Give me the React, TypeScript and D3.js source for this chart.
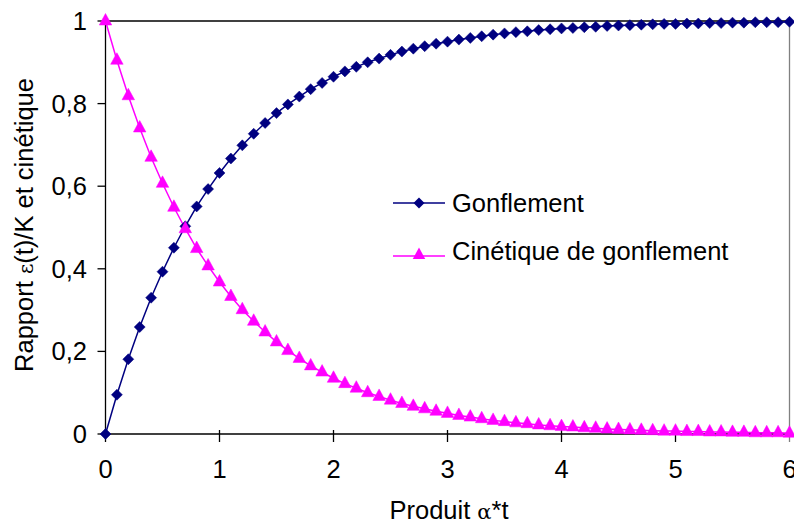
import React from "react";
import * as d3 from "d3";

const X = [0, 0.1, 0.2, 0.3, 0.4, 0.5, 0.6, 0.7, 0.8, 0.9, 1.0, 1.1, 1.2, 1.3, 1.4, 1.5, 1.6, 1.7, 1.8, 1.9, 2.0, 2.1, 2.2, 2.3, 2.4, 2.5, 2.6, 2.7, 2.8, 2.9, 3.0, 3.1, 3.2, 3.3, 3.4, 3.5, 3.6, 3.7, 3.8, 3.9, 4.0, 4.1, 4.2, 4.3, 4.4, 4.5, 4.6, 4.7, 4.8, 4.9, 5.0, 5.1, 5.2, 5.3, 5.4, 5.5, 5.6, 5.7, 5.8, 5.9, 6.0];

const gonflement = [0, 0.095, 0.181, 0.259, 0.33, 0.393, 0.451, 0.503, 0.551, 0.593, 0.632, 0.667, 0.699, 0.727, 0.753, 0.777, 0.798, 0.817, 0.835, 0.85, 0.865, 0.878, 0.889, 0.9, 0.909, 0.918, 0.926, 0.933, 0.939, 0.945, 0.95, 0.955, 0.959, 0.963, 0.967, 0.97, 0.973, 0.975, 0.978, 0.98, 0.982, 0.983, 0.985, 0.986, 0.988, 0.989, 0.99, 0.991, 0.992, 0.993, 0.993, 0.994, 0.994, 0.995, 0.995, 0.996, 0.996, 0.997, 0.997, 0.997, 0.998];

const cinetique = [1, 0.905, 0.819, 0.741, 0.67, 0.607, 0.549, 0.497, 0.449, 0.407, 0.368, 0.333, 0.301, 0.273, 0.247, 0.223, 0.202, 0.183, 0.165, 0.15, 0.135, 0.122, 0.111, 0.1, 0.091, 0.082, 0.074, 0.067, 0.061, 0.055, 0.05, 0.045, 0.041, 0.037, 0.033, 0.03, 0.027, 0.025, 0.022, 0.02, 0.018, 0.017, 0.015, 0.014, 0.012, 0.011, 0.01, 0.009, 0.008, 0.007, 0.007, 0.006, 0.006, 0.005, 0.005, 0.004, 0.004, 0.003, 0.003, 0.003, 0.002];

const xTicks = [0, 1, 2, 3, 4, 5, 6];
const yTicks = [0, 0.2, 0.4, 0.6, 0.8, 1];
const yTickLabels = ["0", "0,2", "0,4", "0,6", "0,8", "1"];

const NAVY = "#000080";
const MAGENTA = "#FF00FF";
const FONT = "'Liberation Sans', Arial, sans-serif";
const FS = 25.5;

const diamond = (cx: number, cy: number, r: number) =>
  `M${cx},${cy - r}L${cx + r},${cy}L${cx},${cy + r}L${cx - r},${cy}Z`;
const triangle = (cx: number, cy: number, w: number, h: number) =>
  `M${cx},${cy - h * 0.65}L${cx + w / 2},${cy + h * 0.35}L${cx - w / 2},${cy + h * 0.35}Z`;

export default function App() {
  const x = d3.scaleLinear().domain([0, 6]).range([105.5, 789.5]);
  const y = d3.scaleLinear().domain([0, 1]).range([434, 21]);

  const line = d3
    .line<number>()
    .x((_, i) => x(X[i]))
    .y((d) => y(d));

  return (
    <svg
      width={794}
      height={527}
      style={{ position: "absolute", left: 0, top: 0, background: "#fff" }}
      fontFamily={FONT}
    >
      <rect x={0} y={0} width={794} height={527} fill="#fff" />
      {/* plot frame */}
      <line x1={x(0)} x2={x(6)} y1={y(1)} y2={y(1)} stroke="#000" strokeWidth={1.3} />
      <line x1={x(6)} x2={x(6)} y1={y(1)} y2={y(0)} stroke="#808080" strokeWidth={1.3} />
      {/* y axis */}
      <line x1={x(0)} x2={x(0)} y1={y(1)} y2={y(0)} stroke="#000" strokeWidth={1.3} />
      {yTicks.map((t, i) => (
        <g key={"yt" + i}>
          <line x1={x(0) - 8} x2={x(0)} y1={y(t)} y2={y(t)} stroke="#000" strokeWidth={1.3} />
          <text x={87} y={y(t) + 9} textAnchor="end" fontSize={FS} fill="#000">
            {yTickLabels[i]}
          </text>
        </g>
      ))}
      {/* x axis */}
      <line x1={x(0)} x2={x(6)} y1={y(0)} y2={y(0)} stroke="#000" strokeWidth={1.3} />
      {xTicks.map((t, i) => (
        <g key={"xt" + i}>
          <line x1={x(t)} x2={x(t)} y1={y(0) - 4} y2={y(0) + 8} stroke={t === 6 ? "#808080" : "#000"} strokeWidth={1.3} />
          <text x={x(t)} y={478} textAnchor="middle" fontSize={FS} fill="#000">
            {String(t)}
          </text>
        </g>
      ))}
      {/* series */}
      <path d={line(gonflement) || ""} fill="none" stroke={NAVY} strokeWidth={1.5} />
      <path d={line(cinetique) || ""} fill="none" stroke={MAGENTA} strokeWidth={1.5} />
      {gonflement.map((v, i) => (
        <path key={"g" + i} d={diamond(x(X[i]), y(v), 5.5)} fill={NAVY} stroke={NAVY} strokeWidth={0.5} />
      ))}
      {cinetique.map((v, i) => (
        <path key={"c" + i} d={triangle(x(X[i]), y(v), 12.5, 11.5)} fill={MAGENTA} stroke={MAGENTA} strokeWidth={0.5} />
      ))}
      {/* legend */}
      <line x1={393} x2={445} y1={203} y2={203} stroke={NAVY} strokeWidth={1.5} />
      <path d={diamond(419, 203, 5.5)} fill={NAVY} />
      <text x={452} y={212} fontSize={FS} fill="#000">Gonflement</text>
      <line x1={393} x2={445} y1={256} y2={256} stroke={MAGENTA} strokeWidth={1.5} />
      <path d={triangle(419, 255, 12.5, 11.5)} fill={MAGENTA} />
      <text x={452} y={260} fontSize={FS} fill="#000">Cinétique de gonflement</text>
      {/* axis titles */}
      <text x={449} y={519} textAnchor="middle" fontSize={FS} fill="#000">
        Produit <tspan fontSize={21} fontFamily="'DejaVu Serif', serif">α</tspan>*t
      </text>
      <text
        transform="translate(33,225) rotate(-90)"
        textAnchor="middle"
        fontSize={FS}
        fill="#000"
      >
        Rapport <tspan fontSize={20} fontFamily="'DejaVu Serif', serif">ε</tspan>(t)/K et cinétique
      </text>
    </svg>
  );
}
